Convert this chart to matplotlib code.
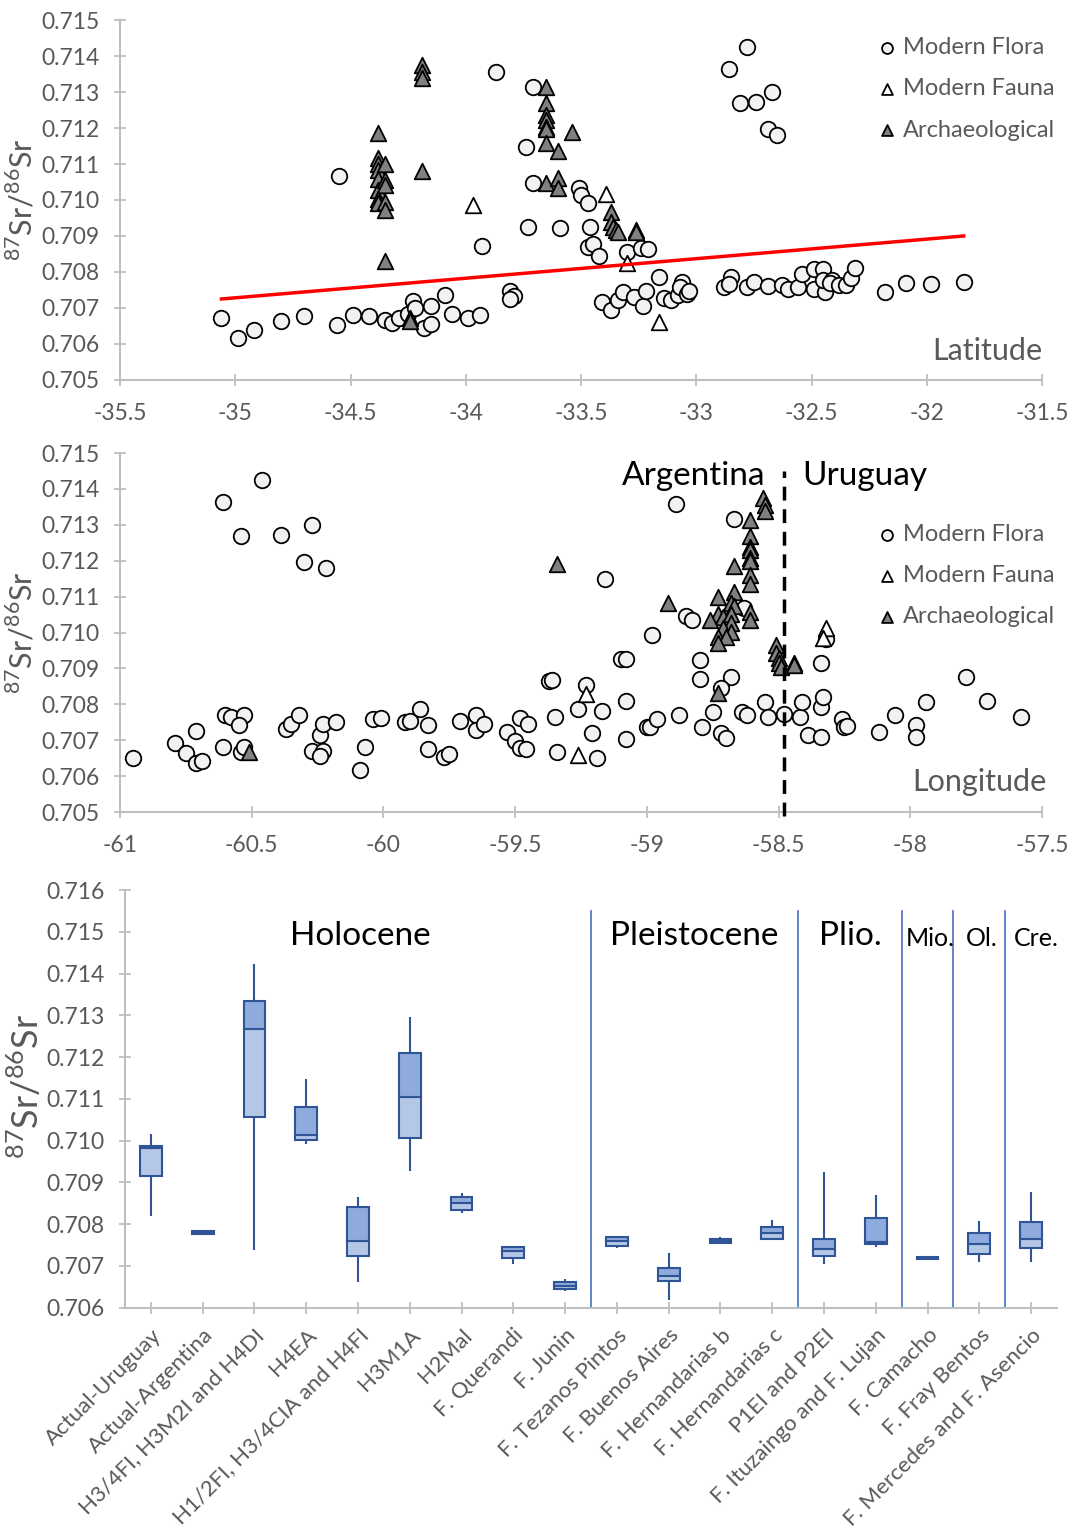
import matplotlib
matplotlib.use("Agg")
import matplotlib.pyplot as plt
from matplotlib.ticker import FuncFormatter, MultipleLocator

plt.rcParams['font.family'] = ['Lato', 'DejaVu Sans']
plt.rcParams['mathtext.fontset'] = 'custom'
plt.rcParams['mathtext.rm'] = 'Lato'

GRAY = '#595959'
AXC = '#bfbfbf'

# ---------------- data: latitude panel ----------------
flora_lat = [-35.06, -34.99, -34.92, -34.80, -34.70, -34.56, -34.49, -34.42, -34.35, -34.32,
             -34.29, -34.25, -34.23, -34.22, -34.18, -34.15, -34.15, -34.09, -34.06, -33.99,
             -33.94, -33.81, -33.79, -33.81, -33.93, -34.55, -33.87, -33.71, -33.74, -33.71,
             -33.73, -33.59, -33.51, -33.50, -33.47, -33.46, -33.47, -33.45, -33.42,
             -33.30, -33.24, -33.21, -33.41, -33.37, -33.34, -33.32, -33.27, -33.23, -33.22,
             -33.16, -33.14, -33.11, -33.08, -33.06, -33.07, -33.04, -33.03,
             -32.88, -32.85, -32.86, -32.78, -32.75, -32.69, -32.63, -32.60, -32.56,
             -32.54, -32.49, -32.45, -32.49, -32.44, -32.45, -32.41, -32.42, -32.38, -32.35,
             -32.33, -32.31, -32.18, -32.09, -31.98, -31.84,
             -32.78, -32.86, -32.81, -32.74, -32.67, -32.69, -32.65]
flora_lat_sr = [0.70673, 0.70617, 0.70639, 0.70664, 0.70678, 0.70653, 0.70680, 0.70678, 0.70667, 0.70658,
                0.70672, 0.70683, 0.70719, 0.70700, 0.70644, 0.70656, 0.70706, 0.70736, 0.70683, 0.70672,
                0.70681, 0.70747, 0.70733, 0.70725, 0.70872, 0.71067, 0.71356, 0.71314, 0.71147, 0.71047,
                0.70925, 0.70922, 0.71033, 0.71014, 0.70992, 0.70925, 0.70869, 0.70878, 0.70844,
                0.70856, 0.70867, 0.70864, 0.70717, 0.70694, 0.70722, 0.70744, 0.70731, 0.70706, 0.70747,
                0.70786, 0.70728, 0.70722, 0.70736, 0.70772, 0.70758, 0.70739, 0.70747,
                0.70758, 0.70786, 0.70767, 0.70758, 0.70772, 0.70761, 0.70764, 0.70753, 0.70758,
                0.70794, 0.70808, 0.70808, 0.70753, 0.70744, 0.70778, 0.70778, 0.70769, 0.70764, 0.70764,
                0.70783, 0.70811, 0.70744, 0.70769, 0.70767, 0.70772,
                0.71425, 0.71364, 0.71269, 0.71272, 0.71300, 0.71197, 0.71181]

fauna_lat = [-33.97, -33.39, -33.30, -33.16]
fauna_lat_sr = [0.70986, 0.71017, 0.70825, 0.70661]

arch_lat = [-34.38, -34.38, -34.38, -34.38, -34.38, -34.38, -34.38, -34.38,
            -34.35, -34.35, -34.35, -34.35, -34.35, -34.35,
            -34.19, -34.19, -34.19, -34.19, -34.24, -34.24,
            -33.65, -33.65, -33.65, -33.65, -33.65, -33.65, -33.65, -33.65,
            -33.60, -33.60, -33.60, -33.54,
            -33.37, -33.37, -33.36, -33.35, -33.34, -33.26, -33.26]
arch_lat_sr = [0.71186, 0.71117, 0.71100, 0.71083, 0.71058, 0.71028, 0.71003, 0.70992,
               0.71100, 0.71056, 0.71042, 0.70994, 0.70972, 0.70831,
               0.71375, 0.71356, 0.71339, 0.71081, 0.70672, 0.70665,
               0.71314, 0.71269, 0.71236, 0.71222, 0.71203, 0.71197, 0.71158, 0.71047,
               0.71136, 0.71061, 0.71033, 0.71189,
               0.70967, 0.70939, 0.70925, 0.70917, 0.70912, 0.70917, 0.70910]

trend_lat = [-35.06, -31.84]
trend_sr = [0.70725, 0.70900]

# ---------------- data: longitude panel ----------------
flora_lon = [-60.95, -60.79, -60.75, -60.71, -60.71, -60.69, -60.61, -60.46, -60.54, -60.39,
             -60.27, -60.30, -60.22, -60.60, -60.58, -60.53, -60.55, -60.61, -60.54, -60.53,
             -60.37, -60.35, -60.32, -60.24, -60.23, -60.18, -60.27, -60.23, -60.24, -60.09,
             -60.07, -60.04, -60.01, -59.92, -59.90, -59.86, -59.83, -59.83, -59.77, -59.75,
             -59.71, -59.65, -59.65, -59.62, -59.53, -59.50, -59.48, -59.48, -59.46, -59.45,
             -59.37, -59.36, -59.35, -59.34, -59.26, -59.23, -59.21, -59.19,
             -59.17, -59.08, -59.08, -59.00, -58.99, -58.96, -58.88, -58.79, -58.75, -58.72,
             -58.70, -58.64, -58.62, -58.55, -58.54, -58.48, -58.42, -58.41, -58.39, -58.34,
             -58.34, -58.33, -58.34, -58.32, -58.26, -58.25, -58.24, -58.12, -58.06, -57.98,
             -57.98, -57.94, -57.79, -57.71, -57.58, -58.89, -58.67, -59.16, -58.98, -58.85,
             -58.83, -58.63, -59.10, -59.08, -58.80, -58.80, -58.68, -58.72]
flora_lon_sr = [0.70651, 0.70691, 0.70665, 0.70727, 0.70637, 0.70642, 0.71365, 0.71425, 0.71269, 0.71272,
                0.71299, 0.71196, 0.71181, 0.70770, 0.70765, 0.70770, 0.70742, 0.70680, 0.70666, 0.70681,
                0.70730, 0.70746, 0.70769, 0.70714, 0.70745, 0.70751, 0.70671, 0.70671, 0.70657, 0.70616,
                0.70682, 0.70758, 0.70762, 0.70751, 0.70754, 0.70786, 0.70743, 0.70675, 0.70654, 0.70662,
                0.70755, 0.70770, 0.70728, 0.70744, 0.70722, 0.70698, 0.70763, 0.70678, 0.70675, 0.70744,
                0.70864, 0.70868, 0.70765, 0.70668, 0.70786, 0.70853, 0.70719, 0.70651,
                0.70781, 0.70809, 0.70703, 0.70738, 0.70738, 0.70760, 0.70770, 0.70738, 0.70778, 0.70721,
                0.70705, 0.70779, 0.70770, 0.70806, 0.70765, 0.70773, 0.70764, 0.70806, 0.70714, 0.70708,
                0.70793, 0.70820, 0.70916, 0.70981, 0.70758, 0.70736, 0.70741, 0.70724, 0.70770, 0.70742,
                0.70710, 0.70806, 0.70877, 0.70809, 0.70765, 0.71357, 0.71315, 0.71148, 0.70992, 0.71047,
                0.71034, 0.71067, 0.70925, 0.70926, 0.70923, 0.70870, 0.70876, 0.70845]

fauna_lon = [-59.23, -59.26, -58.32, -58.33]
fauna_lon_sr = [0.70828, 0.70659, 0.71013, 0.70984]

arch_lon = [-60.51, -59.34, -58.92, -58.73, -58.56, -58.55, -58.55, -58.61, -58.61, -58.61,
            -58.61, -58.61, -58.61, -58.61, -58.61, -58.67, -58.67, -58.73, -58.68, -58.67,
            -58.73, -58.71, -58.76, -58.68, -58.68, -58.71, -58.68, -58.73, -58.70, -58.73,
            -58.61, -58.61, -58.51, -58.51, -58.50, -58.50, -58.49, -58.44, -58.44]
arch_lon_sr = [0.70668, 0.71190, 0.71081, 0.70831, 0.71374, 0.71355, 0.71339, 0.71313, 0.71269, 0.71237,
               0.71230, 0.71207, 0.71198, 0.71160, 0.71135, 0.71186, 0.71114, 0.71100, 0.71083, 0.71075,
               0.71053, 0.71044, 0.71035, 0.71053, 0.71026, 0.71012, 0.71002, 0.70988, 0.70988, 0.70972,
               0.71058, 0.71035, 0.70965, 0.70942, 0.70928, 0.70916, 0.70905, 0.70914, 0.70910]

border_lon = -58.48

# ---------------- data: box panel ----------------
units = ['Actual-Uruguay', 'Actual-Argentina', 'H3/4FI, H3M2I and H4DI', 'H4EA',
         'H1/2FI, H3/4CIA and H4FI', 'H3M1A', 'H2Mal', 'F. Querandi', 'F. Junin',
         'F. Tezanos Pintos', 'F. Buenos Aires', 'F. Hernandarias b', 'F. Hernandarias c',
         'P1EI and P2EI', 'F. Ituzaingo and F. Lujan', 'F. Camacho', 'F. Fray Bentos',
         'F. Mercedes and F. Asencio']
w_lo = [0.70819, 0.70776, 0.70738, 0.70992, 0.70661, 0.70927, 0.70828, 0.70704, 0.70639,
        0.70744, 0.70618, 0.70754, 0.70764, 0.70705, 0.70746, 0.70716, 0.70709, 0.70710]
q1 = [0.70915, 0.70777, 0.71056, 0.71001, 0.70724, 0.71006, 0.70835, 0.70718, 0.70645,
      0.70749, 0.70663, 0.70756, 0.70764, 0.70725, 0.70752, 0.70716, 0.70728, 0.70742]
med = [0.70983, 0.70780, 0.71268, 0.71013, 0.70761, 0.71105, 0.70850, 0.70736, 0.70652,
       0.70760, 0.70677, 0.70760, 0.70778, 0.70740, 0.70758, 0.70719, 0.70753, 0.70765]
q3 = [0.70987, 0.70783, 0.71334, 0.71080, 0.70842, 0.71209, 0.70866, 0.70746, 0.70661,
      0.70770, 0.70695, 0.70764, 0.70794, 0.70764, 0.70815, 0.70722, 0.70780, 0.70806]
w_hi = [0.71016, 0.70785, 0.71422, 0.71147, 0.70866, 0.71297, 0.70875, 0.70746, 0.70670,
        0.70770, 0.70730, 0.70769, 0.70809, 0.70924, 0.70870, 0.70722, 0.70808, 0.70876]
epoch_breaks = [8.5, 12.5, 14.5, 15.5, 16.5]
epochs = ['Holocene', 'Pleistocene', 'Plio.', 'Mio.', 'Ol.', 'Cre.']
epoch_x = [4.05, 10.5, 13.5, 15.05, 16.05, 17.1]
epoch_size = [24, 24, 24, 18, 18, 18]

fig = plt.figure(figsize=(10.68, 15.29), dpi=100)


def style_axes(ax):
    for s in ['top', 'right']:
        ax.spines[s].set_visible(False)
    for s in ['left', 'bottom']:
        ax.spines[s].set_color(AXC)
        ax.spines[s].set_linewidth(1.5)
    ax.tick_params(direction='inout', length=9, width=1.3, color=AXC,
                   labelcolor=GRAY, labelsize=16.5)
    ax.tick_params(axis='y', pad=10)
    ax.tick_params(axis='x', pad=12)
    ax.yaxis.set_major_formatter(FuncFormatter(lambda v, p: '%.3f' % v))


def scatter_panel(ax, fx, fy, ax_, ay, gx, gy):
    ax.scatter(fx, fy, s=125, marker='o', facecolor='#f2f2f2', edgecolor='black',
               linewidth=1.3, zorder=3, label='Modern Flora')
    ax.scatter(ax_, ay, s=125, marker='^', facecolor='white', edgecolor='black',
               linewidth=1.3, zorder=4, label='Modern Fauna')
    ax.scatter(gx, gy, s=125, marker='^', facecolor='#808080', edgecolor='black',
               linewidth=1.3, zorder=4, label='Archaeological')


def add_legend(ax, y):
    ax.legend(loc='upper right', bbox_to_anchor=(1.037, y), frameon=False, fontsize=17,
              labelcolor=GRAY, markerscale=0.7, handletextpad=0.15, labelspacing=0.86,
              handlelength=1.0)


ylab = r'$^{87}$Sr/$^{86}$Sr'

# ---- top: latitude ----
ax1 = fig.add_axes([0.1124, 0.7515, 0.8633, 0.2354])
style_axes(ax1)
scatter_panel(ax1, flora_lat, flora_lat_sr, fauna_lat, fauna_lat_sr, arch_lat, arch_lat_sr)
ax1.plot(trend_lat, trend_sr, color='red', lw=2.5, zorder=5)
ax1.set_xlim(-35.5, -31.5)
ax1.set_ylim(0.705, 0.715)
ax1.xaxis.set_major_locator(MultipleLocator(0.5))
ax1.yaxis.set_major_locator(MultipleLocator(0.001))
ax1.xaxis.set_major_formatter(FuncFormatter(lambda v, p: '%g' % v))
ax1.set_ylabel(ylab, fontsize=22, color=GRAY)
ax1.yaxis.set_label_coords(-0.09, 0.5)
ax1.text(1.0, 0.08, 'Latitude', transform=ax1.transAxes, ha='right', va='center',
         fontsize=22, color=GRAY)
add_legend(ax1, 1.012)

# ---- middle: longitude ----
ax2 = fig.add_axes([0.1124, 0.4689, 0.8633, 0.2348])
style_axes(ax2)
scatter_panel(ax2, flora_lon, flora_lon_sr, fauna_lon, fauna_lon_sr, arch_lon, arch_lon_sr)
ax2.set_xlim(-61, -57.5)
ax2.set_ylim(0.705, 0.715)
ax2.xaxis.set_major_locator(MultipleLocator(0.5))
ax2.yaxis.set_major_locator(MultipleLocator(0.001))
ax2.xaxis.set_major_formatter(FuncFormatter(lambda v, p: '%g' % v))
ax2.plot([border_lon, border_lon], [0.7049, 0.7145], color='black', lw=2.5,
         ls=(0, (4, 2.5)), zorder=6, clip_on=False)
ax2.text(border_lon - 0.07, 0.71435, 'Argentina', ha='right', va='center', fontsize=24)
ax2.text(border_lon + 0.07, 0.71435, 'Uruguay', ha='left', va='center', fontsize=24)
ax2.set_ylabel(ylab, fontsize=22, color=GRAY)
ax2.yaxis.set_label_coords(-0.09, 0.5)
ax2.text(1.005, 0.085, 'Longitude', transform=ax2.transAxes, ha='right', va='center',
         fontsize=22, color=GRAY)
add_legend(ax2, 0.862)

# ---- bottom: boxes ----
ax3 = fig.add_axes([0.117, 0.1447, 0.8727, 0.2732])
style_axes(ax3)
pos = list(range(len(units)))
dark = '#2f5597'
ax3.vlines(pos, w_lo, q1, color=dark, lw=1.5, zorder=2)
ax3.vlines(pos, q3, w_hi, color=dark, lw=1.5, zorder=2)
lower_h = [m - a for m, a in zip(med, q1)]
upper_h = [b - m for b, m in zip(q3, med)]
ax3.bar(pos, lower_h, bottom=q1, width=0.42, color='#b4c7e7', edgecolor=dark, lw=1.5, zorder=3)
ax3.bar(pos, upper_h, bottom=med, width=0.42, color='#8faadc', edgecolor=dark, lw=1.5, zorder=3)
for b in epoch_breaks:
    ax3.plot([b, b], [0.706, 0.7155], color='#4472c4', lw=1.2, zorder=1)
for name, x, fs in zip(epochs, epoch_x, epoch_size):
    ax3.text(x, 0.7149 if fs > 20 else 0.71485, name, ha='center', va='center', fontsize=fs)
ax3.set_xlim(-0.5, 17.5)
ax3.set_ylim(0.706, 0.716)
ax3.yaxis.set_major_locator(MultipleLocator(0.001))
ax3.set_xticks(pos)
ax3.set_xticklabels(units, rotation=45, ha='right', rotation_mode='anchor', fontsize=16)
ax3.tick_params(axis='x', pad=8)
ax3.set_ylabel(ylab, fontsize=26, color=GRAY)
ax3.yaxis.set_label_coords(-0.086, 0.53)

fig.savefig('out.png', dpi=100)
